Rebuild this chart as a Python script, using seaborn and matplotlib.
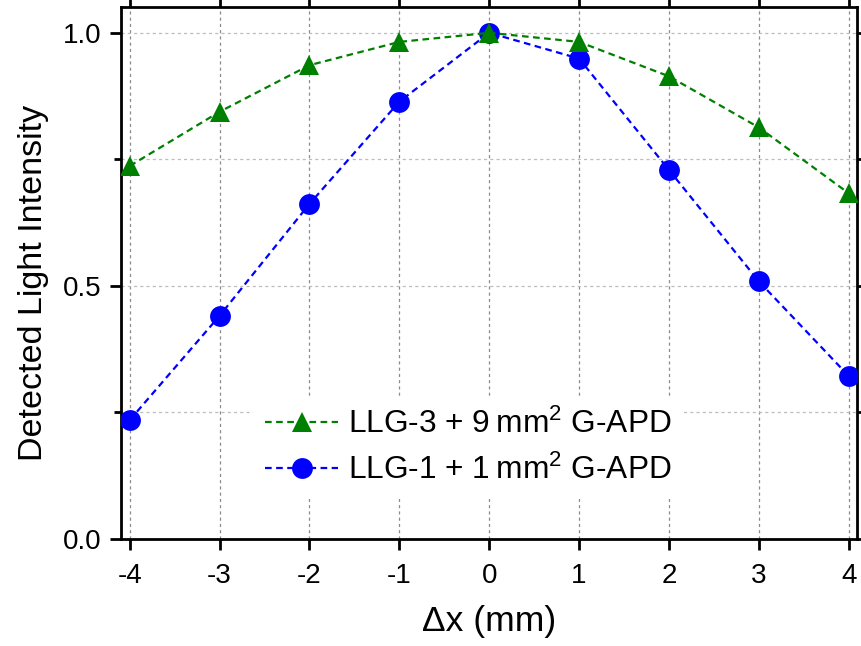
import matplotlib
matplotlib.use("Agg")
import matplotlib.pyplot as plt
from matplotlib.ticker import MultipleLocator
import seaborn as sns
import numpy as np

# Lateral offset of the light source (mm)
dx = [-4, -3, -2, -1, 0, 1, 2, 3, 4]

# Normalised detected light intensity
llg3_9mm = [0.737, 0.844, 0.936, 0.982, 1.0, 0.982, 0.914, 0.813, 0.683]
llg1_1mm = [0.235, 0.441, 0.662, 0.864, 1.0, 0.949, 0.729, 0.509, 0.322]

label_llg3 = "LLG-3 + 9\u2009mm$^2$ G-APD"
label_llg1 = "LLG-1 + 1\u2009mm$^2$ G-APD"

sns.set_style("ticks")
plt.rcParams["font.family"] = ["Liberation Sans", "DejaVu Sans"]
plt.rcParams["mathtext.fontset"] = "custom"
plt.rcParams["mathtext.rm"] = "Liberation Sans"
plt.rcParams["mathtext.it"] = "Liberation Sans:italic"
plt.rcParams["mathtext.default"] = "regular"
plt.rcParams["axes.unicode_minus"] = False
for key in ["text.color", "axes.labelcolor", "xtick.color", "ytick.color",
            "xtick.labelcolor", "ytick.labelcolor"]:
    plt.rcParams[key] = "black"

fig = plt.figure(figsize=(8.62, 6.46), dpi=100)
ax = fig.add_axes([0.1404, 0.1656, 0.8538, 0.8236])

line_kw = dict(linestyle=(0, (3, 2)), linewidth=1.6, markersize=15,
               markeredgewidth=0, zorder=3)

sns.lineplot(x=dx, y=llg1_1mm, ax=ax, color="#0000ff", marker="o",
             label=label_llg1, **line_kw)
sns.lineplot(x=dx, y=llg3_9mm, ax=ax, color="#008000", marker="^",
             label=label_llg3, **line_kw)

ax.set_xlim(-4.097, 4.092)
ax.set_ylim(0, 1.051)
ax.xaxis.set_major_locator(MultipleLocator(1))
ax.yaxis.set_major_locator(MultipleLocator(0.5))
ax.yaxis.set_minor_locator(MultipleLocator(0.25))
ax.yaxis.set_major_formatter(matplotlib.ticker.FormatStrFormatter("%.1f"))

ax.grid(True, axis="x", which="major", color="#8c8c8c",
        linestyle=(0, (2.5, 2.5)), linewidth=0.9, zorder=0)
ax.grid(True, axis="y", which="both", color="#bdbdbd",
        linestyle=(0, (2.5, 2.5)), linewidth=0.9, zorder=0)
ax.set_axisbelow(True)

for side in ["left", "right", "top", "bottom"]:
    ax.spines[side].set_visible(True)
    ax.spines[side].set_linewidth(2.0)
    ax.spines[side].set_color("black")

ax.tick_params(axis="both", which="major", direction="out", length=8,
               width=2, labelsize=20, color="black", labelcolor="black", pad=6)
ax.tick_params(axis="x", which="major", pad=9)
ax.tick_params(axis="y", which="minor", direction="out", length=5, width=2)
ax.tick_params(top=True, right=True, which="both")
ax.tick_params(axis="x", which="minor", bottom=False, top=False)

ax.set_xlabel("\u0394x (mm)", fontsize=25.5, labelpad=12, color="black")
ax.set_ylabel("Detected Light Intensity", fontsize=24.5, labelpad=10,
              color="black")
ax.yaxis.label.set_y(0.481)

handles, labels = ax.get_legend_handles_labels()
leg = ax.legend(handles[::-1], labels[::-1], loc="center",
                bbox_to_anchor=(0.472, 0.172), fontsize=22.8,
                frameon=True, framealpha=1, facecolor="white",
                edgecolor="none", fancybox=False, handlelength=2.3,
                handletextpad=0.3, labelspacing=0.45, borderpad=0.4)
for txt in leg.get_texts():
    txt.set_color("black")

fig.savefig("out.png", dpi=100)
